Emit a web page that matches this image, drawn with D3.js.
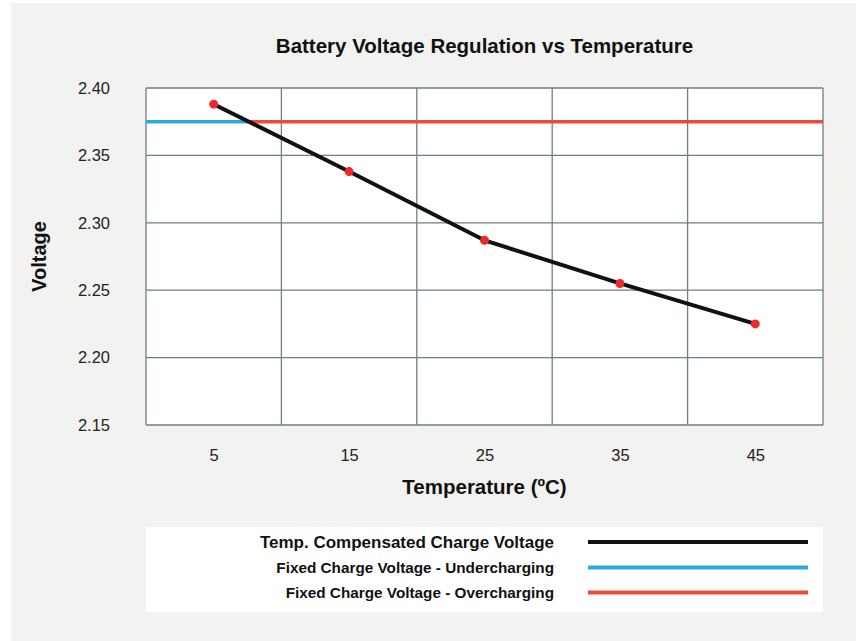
<!DOCTYPE html>
<html><head><meta charset="utf-8">
<script src="https://cdn.jsdelivr.net/npm/d3@7"></script>
<style>
html,body{margin:0;padding:0;background:#fff;}
svg{display:block;font-family:"Liberation Sans",Arial,Helvetica,sans-serif;}
</style></head>
<body><svg id="c" width="856" height="641"></svg>
<script>
const temperatures = [5, 15, 25, 35, 45];
const compensatedVoltage = [2.388, 2.338, 2.287, 2.255, 2.225];
const fixedVoltage = 2.375;
const yTicks = [2.15, 2.20, 2.25, 2.30, 2.35, 2.40];
const xGridValues = [0, 10, 20, 30, 40, 50];
const xTickValues = [5, 15, 25, 35, 45];
const legendLabels = ["Temp. Compensated Charge Voltage", "Fixed Charge Voltage - Undercharging", "Fixed Charge Voltage - Overcharging"];
const legendColors = ["#111111", "#29abe2", "#ee4a36"];

const svg = d3.select("#c");
svg.append("rect").attr("x", 11).attr("y", 3).attr("width", 845).attr("height", 638).attr("fill", "#f2f2f0");

const L = 146, R = 823, T = 88, B = 425;
const x = d3.scaleLinear().domain([0, 50]).range([L, R]);
const y = d3.scaleLinear().domain([2.15, 2.40]).range([B, T]);

svg.append("rect").attr("x", L).attr("y", T).attr("width", R - L).attr("height", B - T).attr("fill", "#fff");

const gridColor = "#6a7f89";
svg.append("g").selectAll("line").data(yTicks).join("line")
  .attr("x1", L).attr("x2", R).attr("y1", d => y(d)).attr("y2", d => y(d))
  .attr("stroke", gridColor).attr("stroke-width", 1.3);
svg.append("g").selectAll("line").data(xGridValues).join("line")
  .attr("y1", T).attr("y2", B).attr("x1", d => x(d)).attr("x2", d => x(d))
  .attr("stroke", gridColor).attr("stroke-width", 1.3);

// Y axis labels
const yAxis = d3.axisLeft(y).tickValues(yTicks).tickFormat(d3.format(".2f")).tickSize(0).tickPadding(36);
const yg = svg.append("g").attr("transform", `translate(${L},0)`).call(yAxis);
yg.select(".domain").remove();
yg.selectAll("text").attr("font-size", 16.5).attr("fill", "#222").attr("font-family", "Liberation Sans, Arial, sans-serif");

// X axis labels
const xAxis = d3.axisBottom(x).tickValues(xTickValues).tickFormat(d3.format("d")).tickSize(0).tickPadding(24);
const xg = svg.append("g").attr("transform", `translate(0,${B})`).call(xAxis);
xg.select(".domain").remove();
xg.selectAll("text").attr("font-size", 16.5).attr("fill", "#222").attr("font-family", "Liberation Sans, Arial, sans-serif");

// Fixed voltage lines: blue until crossing, red after
const pts = temperatures.map((t, i) => [t, compensatedVoltage[i]]);
let crossT = x.domain()[0];
for (let i = 0; i < pts.length - 1; i++) {
  const [t0, v0] = pts[i], [t1, v1] = pts[i + 1];
  if ((v0 - fixedVoltage) * (v1 - fixedVoltage) <= 0) {
    crossT = t0 + (fixedVoltage - v0) / (v1 - v0) * (t1 - t0);
    break;
  }
}
svg.append("line").attr("x1", x(0)).attr("x2", x(crossT)).attr("y1", y(fixedVoltage)).attr("y2", y(fixedVoltage))
  .attr("stroke", legendColors[1]).attr("stroke-width", 3.5);
svg.append("line").attr("x1", x(crossT)).attr("x2", x(50)).attr("y1", y(fixedVoltage)).attr("y2", y(fixedVoltage))
  .attr("stroke", legendColors[2]).attr("stroke-width", 3.5);

// Compensated line
const line = d3.line().x(d => x(d[0])).y(d => y(d[1]));
svg.append("path").datum(pts).attr("d", line).attr("fill", "none")
  .attr("stroke", legendColors[0]).attr("stroke-width", 4).attr("stroke-linejoin", "round");
svg.append("g").selectAll("circle").data(pts).join("circle")
  .attr("cx", d => x(d[0])).attr("cy", d => y(d[1])).attr("r", 4.5).attr("fill", "#ed2a2a");

// Titles
svg.append("text").attr("x", (L + R) / 2).attr("y", 53).attr("text-anchor", "middle")
  .attr("font-size", 20.5).attr("font-weight", "bold").attr("fill", "#111")
  .text("Battery Voltage Regulation vs Temperature");
svg.append("text").attr("x", (L + R) / 2).attr("y", 494).attr("text-anchor", "middle")
  .attr("font-size", 20.5).attr("font-weight", "bold").attr("fill", "#111")
  .text("Temperature (ºC)");
svg.append("text").attr("transform", `translate(46,${(T + B) / 2}) rotate(-90)`).attr("text-anchor", "middle")
  .attr("font-size", 20).attr("font-weight", "bold").attr("fill", "#111")
  .text("Voltage");

// Legend
svg.append("rect").attr("x", L).attr("y", 527).attr("width", R - L).attr("height", 85).attr("fill", "#fff");
const legY = [542, 567.5, 592.5];
const legSizes = [17, 15.3, 15.3];
const lg = svg.append("g").selectAll("g").data(legendLabels).join("g");
lg.append("text").attr("x", 554).attr("y", (d, i) => legY[i] + legSizes[i] * 0.36)
  .attr("text-anchor", "end").attr("font-size", (d, i) => legSizes[i]).attr("font-weight", "bold").attr("fill", "#111")
  .text(d => d);
lg.append("line").attr("x1", 588).attr("x2", 808).attr("y1", (d, i) => legY[i]).attr("y2", (d, i) => legY[i])
  .attr("stroke", (d, i) => legendColors[i]).attr("stroke-width", 4);
</script></body></html>
